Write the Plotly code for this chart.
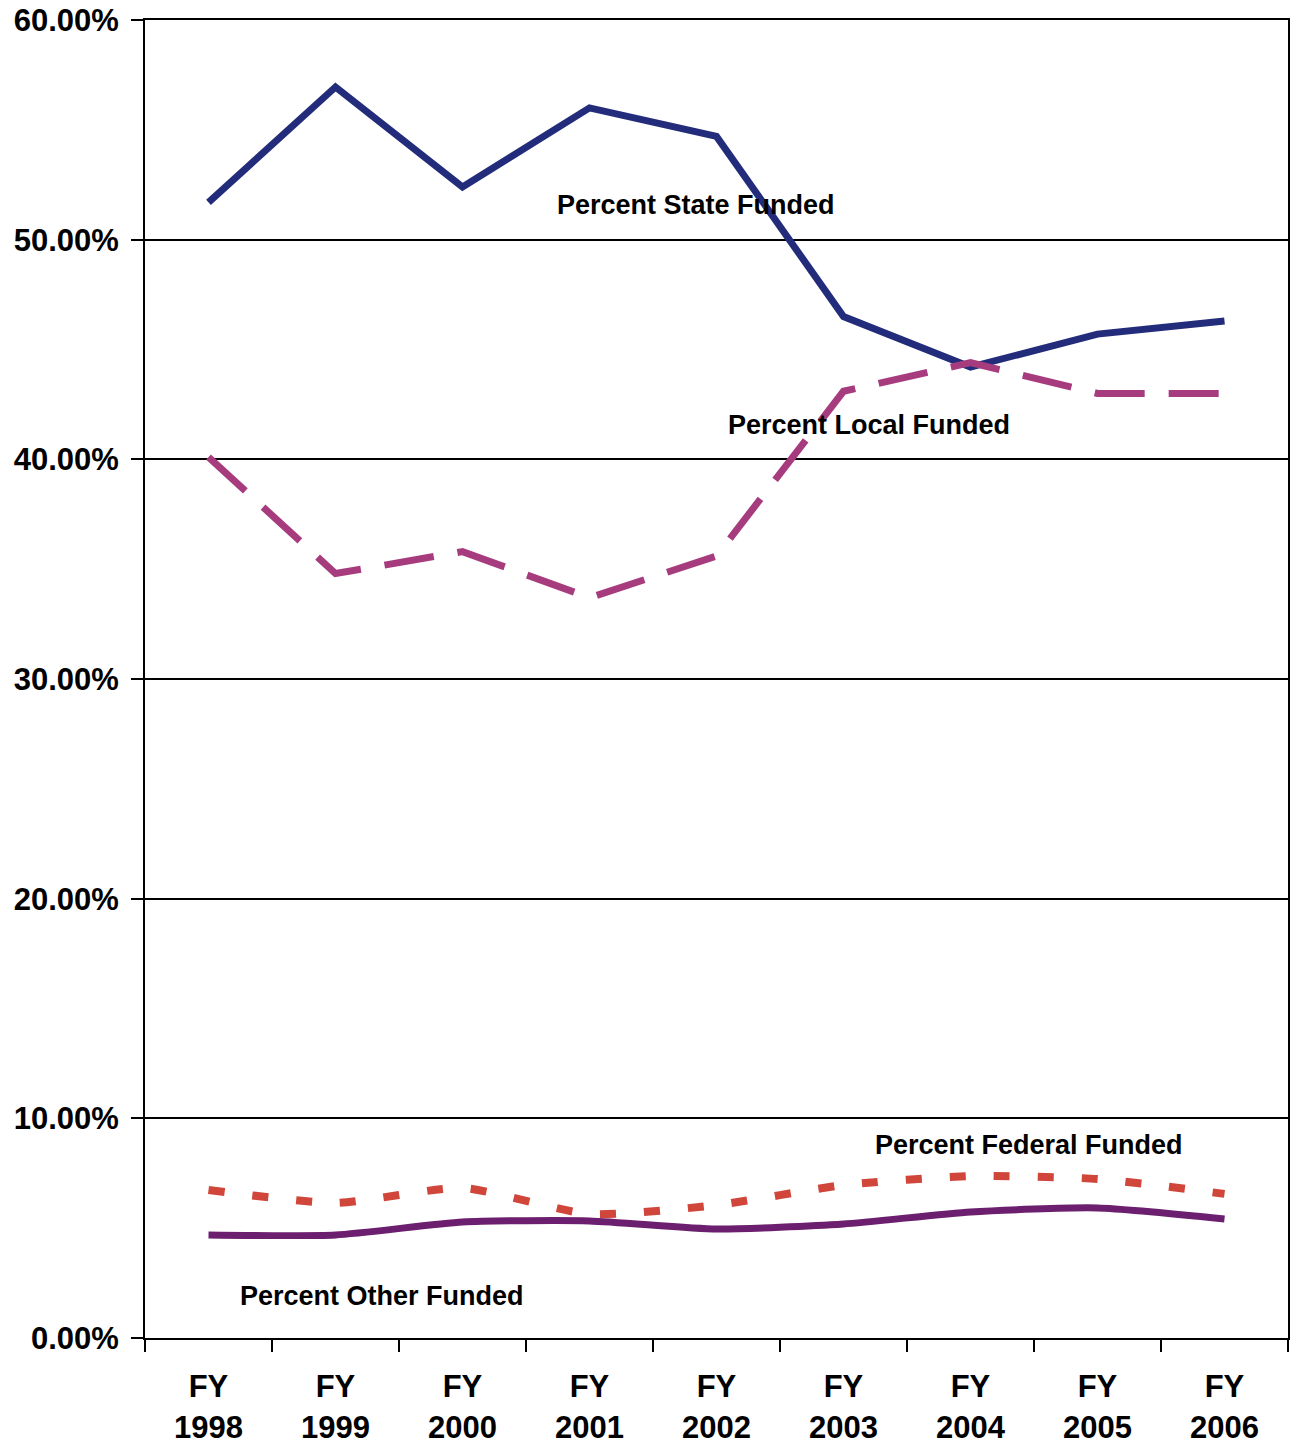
import plotly.graph_objects as go

categories = ["FY<br>1998", "FY<br>1999", "FY<br>2000", "FY<br>2001", "FY<br>2002",
              "FY<br>2003", "FY<br>2004", "FY<br>2005", "FY<br>2006"]
state = [51.7, 56.95, 52.4, 56.0, 54.7, 46.5, 44.2, 45.7, 46.3]
local = [40.1, 34.8, 35.8, 33.7, 35.6, 43.1, 44.4, 43.0, 43.0]
federal = [6.74, 6.15, 6.83, 5.64, 6.05, 6.96, 7.37, 7.24, 6.56]
other = [4.69, 4.69, 5.28, 5.33, 4.96, 5.19, 5.74, 5.92, 5.42]
y_ticks = [0, 10, 20, 30, 40, 50, 60]
y_tick_labels = [f"{v:.2f}%" for v in y_ticks]

FONT = "Arial, Liberation Sans, sans-serif"

fig = go.Figure()
fig.add_trace(go.Scatter(x=categories, y=state, mode="lines", name="Percent State Funded",
                         line=dict(color="#232c7a", width=7)))
fig.add_trace(go.Scatter(x=categories, y=local, mode="lines", name="Percent Local Funded",
                         line=dict(color="#a63c7e", width=7, dash="50px,24px")))
fig.add_trace(go.Scatter(x=categories, y=federal, mode="lines", name="Percent Federal Funded",
                         line=dict(color="#d0463b", width=8, dash="16px,28px", shape="spline", smoothing=0.6)))
fig.add_trace(go.Scatter(x=categories, y=other, mode="lines", name="Percent Other Funded",
                         line=dict(color="#6b1f6e", width=7, shape="spline", smoothing=0.6)))

annotations = [
    ("Percent State Funded", 3.84, 51.6),
    ("Percent Local Funded", 5.20, 41.55),
    ("Percent Federal Funded", 6.46, 8.8),
    ("Percent Other Funded", 1.37, 1.9),
]
for text, x, y in annotations:
    fig.add_annotation(x=x, y=y, xref="x", yref="y", text=text, showarrow=False,
                       font=dict(family=FONT, size=27, color="black", weight="bold"))

fig.update_layout(
    width=1292, height=1447,
    margin=dict(l=145, r=4, t=20, b=109),
    paper_bgcolor="white", plot_bgcolor="white",
    showlegend=False,
    font=dict(family=FONT, color="black"),
)
fig.update_xaxes(
    type="category", range=[-0.5, 8.5], automargin=False,
    showgrid=False, showline=True, linecolor="black", linewidth=2, mirror=True,
    ticks="outside", tickson="boundaries", ticklen=12, tickcolor="black", tickwidth=2,
    tickfont=dict(family=FONT, size=31, color="black", weight="bold"),
    ticklabelstandoff=20,
)
fig.update_yaxes(
    range=[0, 60], tickvals=y_ticks, ticktext=y_tick_labels, automargin=False,
    showgrid=True, gridcolor="black", gridwidth=1.5,
    showline=True, linecolor="black", linewidth=2, mirror=True,
    ticks="outside", ticklen=12, tickcolor="black", tickwidth=2,
    tickfont=dict(family=FONT, size=31, color="black", weight="bold"),
    ticklabelstandoff=6, zeroline=False,
)

fig.write_html("out.html", config={"displayModeBar": False},
               post_script="document.body.style.margin='0';document.body.style.overflow='hidden';")
